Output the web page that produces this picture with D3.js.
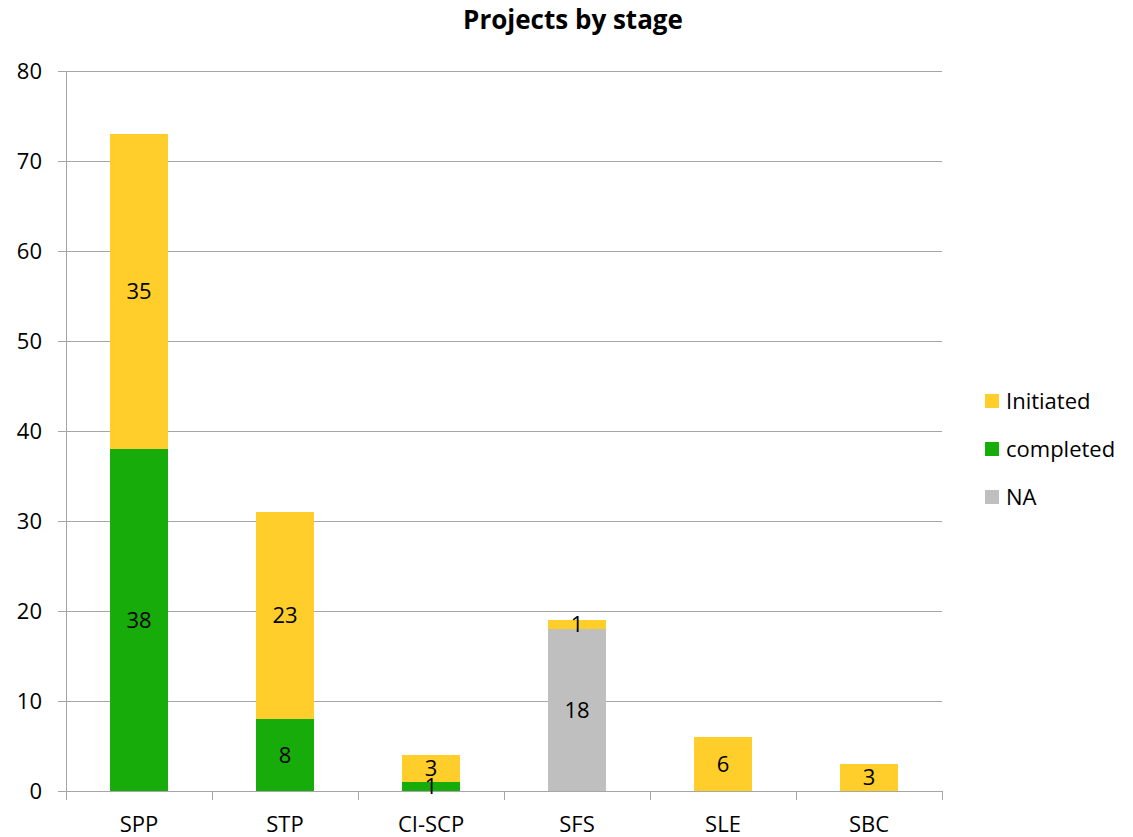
<!DOCTYPE html>
<meta charset="utf-8">
<style>
body { margin: 0; background: #fff; }
* { font-family: "Open Sans", "DejaVu Sans", sans-serif; }
</style>
<body>
<script src="https://d3js.org/d3.v7.min.js"></script>
<script>
var categories = ["SPP", "STP", "CI-SCP", "SFS", "SLE", "SBC"];
var naVals = [0, 0, 0, 18, 0, 0];
var completedVals = [38, 8, 1, 0, 0, 0];
var initiatedVals = [35, 23, 3, 1, 6, 3];
var seriesNames = ["NA", "completed", "Initiated"];
var yTicks = [0, 10, 20, 30, 40, 50, 60, 70, 80];

var colors = {"Initiated": "#FFCE2B", "completed": "#17AC0A", "NA": "#BFBFBF"};

var width = 1133, height = 837;
var fs = "22px";
var svg = d3.select("body").append("svg")
    .attr("width", width)
    .attr("height", height);

var rows = categories.map(function(c, i) {
  return {cat: c, "NA": naVals[i], "completed": completedVals[i], "Initiated": initiatedVals[i]};
});

var x = d3.scaleBand().domain(categories).range([66, 942]).paddingInner(0).paddingOuter(0);
var y = d3.scaleLinear().domain([0, 80]).range([791, 71]);
var barW = 58;

// gridlines
svg.append("g").selectAll("line")
    .data(yTicks)
  .enter().append("line")
    .attr("x1", 58).attr("x2", 942)
    .attr("y1", function(d) { return y(d); })
    .attr("y2", function(d) { return y(d); })
    .attr("stroke", "#A6A6A6")
    .attr("stroke-width", 1)
    .attr("shape-rendering", "crispEdges");

// y axis line
svg.append("line")
    .attr("x1", 66).attr("x2", 66)
    .attr("y1", y(80)).attr("y2", y(0))
    .attr("stroke", "#A6A6A6")
    .attr("shape-rendering", "crispEdges");

// y labels
svg.append("g").selectAll("text")
    .data(yTicks)
  .enter().append("text")
    .attr("x", 42)
    .attr("y", function(d) { return y(d); })
    .attr("dy", "0.35em")
    .attr("text-anchor", "end")
    .style("font-size", fs)
    .text(function(d) { return d; });

// x ticks at band boundaries
var bounds = categories.map(function(c) { return x(c); }).concat([x.range()[1]]);
svg.append("g").selectAll("line")
    .data(bounds)
  .enter().append("line")
    .attr("x1", function(d) { return d; })
    .attr("x2", function(d) { return d; })
    .attr("y1", y(0)).attr("y2", y(0) + 9)
    .attr("stroke", "#A6A6A6")
    .attr("shape-rendering", "crispEdges");

svg.append("g").selectAll("text")
    .data(categories)
  .enter().append("text")
    .attr("x", function(d) { return x(d) + x.bandwidth() / 2; })
    .attr("y", 832)
    .attr("text-anchor", "middle")
    .style("font-size", fs)
    .text(function(d) { return d; });

var stack = d3.stack().keys(seriesNames);
var layers = stack(rows);

var g = svg.append("g").selectAll("g")
    .data(layers)
  .enter().append("g")
    .attr("fill", function(d) { return colors[d.key]; });

g.selectAll("rect")
    .data(function(d) { return d.filter(function(s) { return s[1] - s[0] > 0; }); })
  .enter().append("rect")
    .attr("x", function(d) { return x(d.data.cat) + (x.bandwidth() - barW) / 2; })
    .attr("width", barW)
    .attr("y", function(d) { return y(d[1]); })
    .attr("height", function(d) { return y(d[0]) - y(d[1]); });

// value labels (centred in each segment)
var labels = [];
layers.forEach(function(layer) {
  layer.forEach(function(d) {
    if (d[1] - d[0] > 0) labels.push({cat: d.data.cat, v: d[1] - d[0], mid: (d[0] + d[1]) / 2});
  });
});
svg.append("g").selectAll("text")
    .data(labels)
  .enter().append("text")
    .attr("x", function(d) { return x(d.cat) + x.bandwidth() / 2; })
    .attr("y", function(d) { return y(d.mid); })
    .attr("dy", "0.35em")
    .attr("text-anchor", "middle")
    .style("font-size", fs)
    .text(function(d) { return d.v; });

// title
svg.append("text")
    .attr("x", 573)
    .attr("y", 29)
    .attr("text-anchor", "middle")
    .style("font-size", "26px")
    .style("font-weight", "bold")
    .text("Projects by stage");

// legend
var legendKeys = seriesNames.slice().reverse();
var leg = svg.append("g").selectAll("g")
    .data(legendKeys)
  .enter().append("g")
    .attr("transform", function(d, i) { return "translate(985," + (401 + i * 48) + ")"; });
leg.append("rect")
    .attr("x", 0).attr("y", -7)
    .attr("width", 14).attr("height", 14)
    .attr("fill", function(d) { return colors[d]; });
leg.append("text")
    .attr("x", 21)
    .attr("y", 0)
    .attr("dy", "0.35em")
    .style("font-size", fs)
    .text(function(d) { return d; });
</script>
